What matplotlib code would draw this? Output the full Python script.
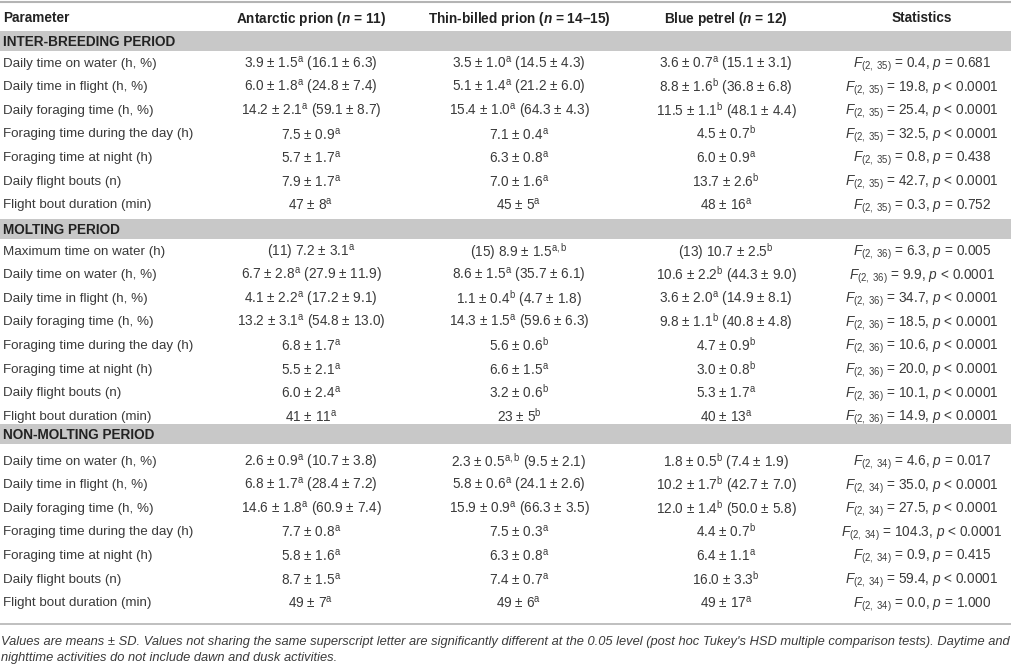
import matplotlib
matplotlib.use('Agg')
import matplotlib.pyplot as plt

plt.rcParams['font.family'] = ['Liberation Sans', 'DejaVu Sans']
plt.rcParams['mathtext.fontset'] = 'custom'
plt.rcParams['mathtext.rm'] = 'Liberation Sans'
plt.rcParams['mathtext.it'] = 'Liberation Sans:italic'
plt.rcParams['mathtext.bf'] = 'Liberation Sans:bold'
plt.rcParams['mathtext.bfit'] = 'Liberation Sans:italic:bold'

# table content
headers = ['Parameter', 'Antarctic prion ($\\mathbfit{n}$ = 11)',
           'Thin-billed prion ($\\mathbfit{n}$ = 14\u201315)',
           'Blue petrel ($\\mathbfit{n}$ = 12)', 'Statistics']
sections = ['INTER-BREEDING PERIOD', 'MOLTING PERIOD', 'NON-MOLTING PERIOD']
section_df = ['35', '36', '34']

parameters = [
    ['Daily time on water (h, %)', 'Daily time in flight (h, %)', 'Daily foraging time (h, %)',
     'Foraging time during the day (h)', 'Foraging time at night (h)', 'Daily flight bouts (n)',
     'Flight bout duration (min)'],
    ['Maximum time on water (h)', 'Daily time on water (h, %)', 'Daily time in flight (h, %)',
     'Daily foraging time (h, %)', 'Foraging time during the day (h)', 'Foraging time at night (h)',
     'Daily flight bouts (n)', 'Flight bout duration (min)'],
    ['Daily time on water (h, %)', 'Daily time in flight (h, %)', 'Daily foraging time (h, %)',
     'Foraging time during the day (h)', 'Foraging time at night (h)', 'Daily flight bouts (n)',
     'Flight bout duration (min)'],
]

# (prefix, mean, sd, letter, percent-part)
antarctic = [
    [('', '3.9', '1.5', 'a', '16.1 ± 6.3'), ('', '6.0', '1.8', 'a', '24.8 ± 7.4'),
     ('', '14.2', '2.1', 'a', '59.1 ± 8.7'), ('', '7.5', '0.9', 'a', ''), ('', '5.7', '1.7', 'a', ''),
     ('', '7.9', '1.7', 'a', ''), ('', '47', '8', 'a', '')],
    [('(11) ', '7.2', '3.1', 'a', ''), ('', '6.7', '2.8', 'a', '27.9 ± 11.9'),
     ('', '4.1', '2.2', 'a', '17.2 ± 9.1'), ('', '13.2', '3.1', 'a', '54.8 ± 13.0'),
     ('', '6.8', '1.7', 'a', ''), ('', '5.5', '2.1', 'a', ''), ('', '6.0', '2.4', 'a', ''),
     ('', '41', '11', 'a', '')],
    [('', '2.6', '0.9', 'a', '10.7 ± 3.8'), ('', '6.8', '1.7', 'a', '28.4 ± 7.2'),
     ('', '14.6', '1.8', 'a', '60.9 ± 7.4'), ('', '7.7', '0.8', 'a', ''), ('', '5.8', '1.6', 'a', ''),
     ('', '8.7', '1.5', 'a', ''), ('', '49', '7', 'a', '')],
]
thin_billed = [
    [('', '3.5', '1.0', 'a', '14.5 ± 4.3'), ('', '5.1', '1.4', 'a', '21.2 ± 6.0'),
     ('', '15.4', '1.0', 'a', '64.3 ± 4.3'), ('', '7.1', '0.4', 'a', ''), ('', '6.3', '0.8', 'a', ''),
     ('', '7.0', '1.6', 'a', ''), ('', '45', '5', 'a', '')],
    [('(15) ', '8.9', '1.5', 'a,b', ''), ('', '8.6', '1.5', 'a', '35.7 ± 6.1'),
     ('', '1.1', '0.4', 'b', '4.7 ± 1.8'), ('', '14.3', '1.5', 'a', '59.6 ± 6.3'),
     ('', '5.6', '0.6', 'b', ''), ('', '6.6', '1.5', 'a', ''), ('', '3.2', '0.6', 'b', ''),
     ('', '23', '5', 'b', '')],
    [('', '2.3', '0.5', 'a,b', '9.5 ± 2.1'), ('', '5.8', '0.6', 'a', '24.1 ± 2.6'),
     ('', '15.9', '0.9', 'a', '66.3 ± 3.5'), ('', '7.5', '0.3', 'a', ''), ('', '6.3', '0.8', 'a', ''),
     ('', '7.4', '0.7', 'a', ''), ('', '49', '6', 'a', '')],
]
blue_petrel = [
    [('', '3.6', '0.7', 'a', '15.1 ± 3.1'), ('', '8.8', '1.6', 'b', '36.8 ± 6.8'),
     ('', '11.5', '1.1', 'b', '48.1 ± 4.4'), ('', '4.5', '0.7', 'b', ''), ('', '6.0', '0.9', 'a', ''),
     ('', '13.7', '2.6', 'b', ''), ('', '48', '16', 'a', '')],
    [('(13) ', '10.7', '2.5', 'b', ''), ('', '10.6', '2.2', 'b', '44.3 ± 9.0'),
     ('', '3.6', '2.0', 'a', '14.9 ± 8.1'), ('', '9.8', '1.1', 'b', '40.8 ± 4.8'),
     ('', '4.7', '0.9', 'b', ''), ('', '3.0', '0.8', 'b', ''), ('', '5.3', '1.7', 'a', ''),
     ('', '40', '13', 'a', '')],
    [('', '1.8', '0.5', 'b', '7.4 ± 1.9'), ('', '10.2', '1.7', 'b', '42.7 ± 7.0'),
     ('', '12.0', '1.4', 'b', '50.0 ± 5.8'), ('', '4.4', '0.7', 'b', ''), ('', '6.4', '1.1', 'a', ''),
     ('', '16.0', '3.3', 'b', ''), ('', '49', '17', 'a', '')],
]
f_values = [
    ['0.4', '19.8', '25.4', '32.5', '0.8', '42.7', '0.3'],
    ['6.3', '9.9', '34.7', '18.5', '10.6', '20.0', '10.1', '14.9'],
    ['4.6', '35.0', '27.5', '104.3', '0.9', '59.4', '0.0'],
]
p_values = [
    ['= 0.681', '< 0.0001', '< 0.0001', '< 0.0001', '= 0.438', '< 0.0001', '= 0.752'],
    ['= 0.005', '< 0.0001', '< 0.0001', '< 0.0001', '< 0.0001', '< 0.0001', '< 0.0001', '< 0.0001'],
    ['= 0.017', '< 0.0001', '< 0.0001', '< 0.0001', '= 0.415', '< 0.0001', '= 1.000'],
]
footnote = ["Values are means ± SD. Values not sharing the same superscript letter are significantly "
            "different at the 0.05 level (post hoc Tukey's HSD multiple comparison tests). Daytime and",
            "nighttime activities do not include dawn and dusk activities."]

# layout (pixels)
col_x = [3, 311, 519, 726, 922]
band_top = [31, 219, 424]
band_h = 20
first_row = [62, 250, 460]
pitch = 23.6
fs = 9.8
fs_par = 9.6
base = 4.5       # baseline offset below row centre
sup_shift = 1.8  # mathtext cells sit a little high
sub_shift = 1.0
dark = '#222222'
body = '#3a3a3a'
band_col = '#c8c8c8'
rule_col = '#b4b4b4'


def cell(c):
    pre, m, sd, let, pct = c
    s = f'{pre}{m} ± {sd}$^{{\\mathrm{{{let}}}}}$'
    if pct:
        s += f' ({pct})'
    return s


fig = plt.figure(figsize=(10.12, 6.64), dpi=100)
ax = fig.add_axes([0, 0, 1, 1])
ax.set_xlim(0, 1012)
ax.set_ylim(664, 0)
ax.axis('off')

ax.axhline(1.5, color=rule_col, lw=1.5)
ax.axhline(624, color=rule_col, lw=1.2)

for j, h in enumerate(headers):
    ha = 'left' if j == 0 else 'center'
    dy = 0 if j in (0, 4) else 1.0
    ax.text(col_x[j], 17 + base + dy, h, ha=ha, va='baseline', fontsize=fs,
            fontweight='bold', color=dark)

for k, name in enumerate(sections):
    ax.fill_between([0, 1012], band_top[k], band_top[k] + band_h, color=band_col, lw=0)
    ax.text(col_x[0], band_top[k] + band_h / 2 + base + 0.5, name, ha='left', va='baseline',
            fontsize=fs, fontweight='bold', color=dark)
    for i, par in enumerate(parameters[k]):
        y = first_row[k] + i * pitch + base
        ax.text(col_x[0], y, par, ha='left', va='baseline', fontsize=fs_par, color=body)
        yc = y + sup_shift
        ax.text(col_x[1], yc, cell(antarctic[k][i]), ha='center', va='baseline', fontsize=fs, color=body)
        ax.text(col_x[2], yc, cell(thin_billed[k][i]), ha='center', va='baseline', fontsize=fs, color=body)
        ax.text(col_x[3], yc, cell(blue_petrel[k][i]), ha='center', va='baseline', fontsize=fs, color=body)
        stat = f'$F_{{(2,\\ {section_df[k]})}}$ = {f_values[k][i]}, $p$ {p_values[k][i]}'
        ax.text(col_x[4], y + sub_shift, stat, ha='center', va='baseline', fontsize=fs, color=body)

ax.text(1, 641 + 3.5, footnote[0], ha='left', va='baseline', fontsize=9.3, style='italic', color=body)
ax.text(1, 657 + 3.5, footnote[1], ha='left', va='baseline', fontsize=9.3, style='italic', color=body)

fig.savefig('out.png', dpi=100)
